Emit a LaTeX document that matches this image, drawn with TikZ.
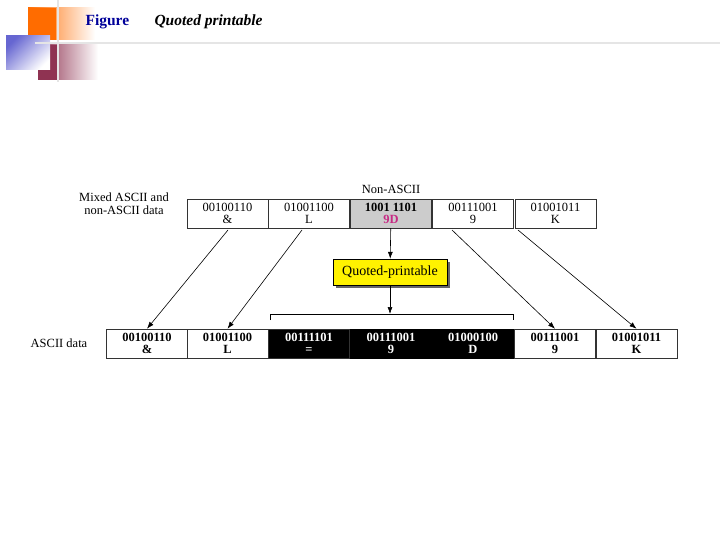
\documentclass[tikz,border=0pt]{standalone}
\usepackage{fontspec}
\setmainfont{Liberation Serif}
\usetikzlibrary{arrows.meta}
\begin{document}
\begin{tikzpicture}[x=1pt,y=-1pt,
 cell/.style={draw=black!80,line width=0.5pt,minimum width=81pt,minimum height=29pt,inner sep=0pt,align=center,font=\fontsize{12.5}{12}\selectfont},
 bcell/.style={cell,font=\bfseries\fontsize{12.5}{12}\selectfont},
 lab/.style={font=\fontsize{12.5}{13}\selectfont,align=center},
 arr/.style={-{Latex[length=7pt,width=5pt]},line width=0.6pt}]
\useasboundingbox (0,0) rectangle (720,540);
% header decoration
\fill[left color=orange!85!red, right color=white] (28,8) rectangle (95,40);
\fill[orange!85!red] (28,8) rectangle (56,40);
\fill[left color=purple!60!black!80, right color=white] (38,45) rectangle (98,80);
\fill[purple!60!black!80] (38,45) rectangle (58,80);
\fill[left color=blue!70!black!60, right color=white, shading angle=45] (6,36) rectangle (50,70);
\draw[black!10,line width=2pt] (58,0) -- (58,82);
\draw[black!10,line width=2pt] (35,43) -- (720,43);
\node[anchor=west,text=blue!60!black,font=\bfseries\fontsize{15.5}{15}\selectfont] (fig) at (82,22) {Figure};
\node[anchor=west,font=\bfseries\itshape\fontsize{15.5}{15}\selectfont] (title) at (151,22) {Quoted printable};
% top row
\node[cell] (t1) at (227.5,213.5) {00100110\\\&};
\node[cell] (t2) at (309,213.5) {01001100\\L};
\node[cell,fill=black!20] (t3) at (391,213.5) {\textbf{1001 1101}\\\textcolor{magenta!80!black}{\textbf{9D}}};
\node[cell] (t4) at (473,213.5) {00111001\\9};
\node[cell] (t5) at (555.5,213.5) {01001011\\K};
\node[lab] (mix) at (124,204) {Mixed ASCII and\\non-ASCII data};
\node[lab] (non) at (391,189) {Non-ASCII};
% qp box
\fill[black!60] (336,262) rectangle (450,288);
\node[draw=black,fill=yellow,minimum width=114pt,minimum height=26pt,inner sep=0pt,font=\fontsize{14}{14}\selectfont] (qp) at (390,272) {Quoted-printable};
\draw[arr] (t3) -- (qp);
% bottom row
\node[bcell] (b1) at (147,343.5) {00100110\\\&};
\node[bcell] (b2) at (227.5,343.5) {01001100\\L};
\node[bcell,fill=black,text=white] (b3) at (309,343.5) {00111101\\=};
\node[bcell,fill=black,text=white,draw=black] (b4) at (391,343.5) {00111001\\9};
\node[bcell,fill=black,text=white,draw=black] (b5) at (473,343.5) {01000100\\D};
\node[bcell] (b6) at (555,343.5) {00111001\\9};
\node[bcell] (b7) at (636.5,343.5) {01001011\\K};
\node[lab] (asc) at (59,343) {ASCII data};
% bracket
\coordinate (bl) at (270,320);
\coordinate (bt) at (390,314);
\draw[line width=0.6pt] (bl) -- ++(0,-6) -- ++(243,0) -- ++(0,6);
\draw[arr] (qp) -- (bt);
% diagonals
\draw[arr] (228,230) -- (b1.north);
\draw[arr] (302,230) -- (b2.north);
\draw[arr] (452,230) -- (b6.north);
\draw[arr] (518,230) -- (b7.north);
\end{tikzpicture}
\end{document}
